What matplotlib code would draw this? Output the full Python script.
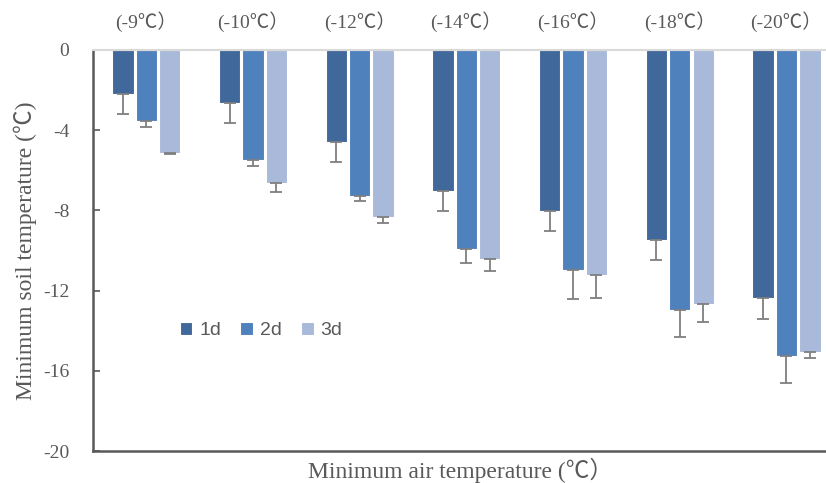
import numpy as np
import matplotlib.pyplot as plt
import matplotlib.transforms as mtransforms

plt.rcParams['axes.unicode_minus'] = False

categories = ['(-9℃）', '(-10℃）', '(-12℃）', '(-14℃）', '(-16℃）', '(-18℃）', '(-20℃）']
series = ['1d', '2d', '3d']
values_1d = [-2.19, -2.66, -4.59, -7.02, -8.01, -9.48, -12.39]
values_2d = [-3.56, -5.50, -7.27, -9.93, -10.99, -12.97, -15.25]
values_3d = [-5.15, -6.65, -8.31, -10.42, -11.20, -12.67, -15.05]
err_1d = [1.00, 1.00, 1.00, 1.00, 1.00, 1.00, 1.00]
err_2d = [0.28, 0.30, 0.25, 0.68, 1.43, 1.36, 1.34]
err_3d = [0.05, 0.42, 0.33, 0.58, 1.19, 0.91, 0.30]

colors = ['#41689A', '#4F81BD', '#A9B9D9']
serif = ['Liberation Serif', 'Noto Sans CJK SC']
gray = '#595959'

fig = plt.figure(figsize=(8.26, 4.83), dpi=100)
ax = fig.add_axes([0.1126, 0.066, 0.904, 0.8305])

x = np.arange(len(categories))
width = 0.2
offsets = [-0.22, 0.0, 0.22]
for vals, errs, off, col, name in zip([values_1d, values_2d, values_3d],
                                      [err_1d, err_2d, err_3d],
                                      offsets, colors, series):
    errs = np.array(errs)
    ax.bar(x + off, vals, width, color=col, edgecolor='white', linewidth=0.8,
           label=name, zorder=2,
           yerr=[errs, np.zeros_like(errs)],
           error_kw=dict(ecolor='#7F7F7F', elinewidth=1.3, capsize=4.5, capthick=1.3))

ax.set_xlim(-0.5, len(categories) - 0.5)
ax.set_ylim(-20, 0)
ax.set_yticks(np.arange(-20, 1, 4))
ax.set_xticks([])

ax.spines['top'].set_color('#D9D9D9')
ax.spines['top'].set_linewidth(1.5)
ax.spines['right'].set_visible(False)
for s in ['left', 'bottom']:
    ax.spines[s].set_color(gray)
    ax.spines[s].set_linewidth(1.8)

ax.tick_params(axis='y', direction='in', length=5, width=1.2, color=gray,
               labelcolor=gray, pad=17)
for lab in ax.get_yticklabels():
    lab.set_family(serif)
    lab.set_fontsize(14)

trans = mtransforms.blended_transform_factory(ax.transData, ax.transAxes)
for xi, cat in zip(x, categories):
    ax.text(xi, 1.07, cat, transform=trans, ha='center', va='center',
            fontsize=14, color=gray, family=serif)

ax.set_ylabel('Minimum soil temperature (℃)', fontsize=17, color=gray,
              family=serif, labelpad=4)
fig.text(460 / 826, 1 - 470 / 483, 'Minimum air temperature (℃）', ha='center',
         va='center', fontsize=17, color=gray, family=serif)

leg = ax.legend(loc='center', bbox_to_anchor=(0.225, 0.3), ncol=3, frameon=False,
                handlelength=0.65, handleheight=0.65, handletextpad=0.35,
                columnspacing=1.0, prop={'family': 'Liberation Sans', 'size': 14})
for t in leg.get_texts():
    t.set_color(gray)

fig.savefig('out.png', dpi=100)
